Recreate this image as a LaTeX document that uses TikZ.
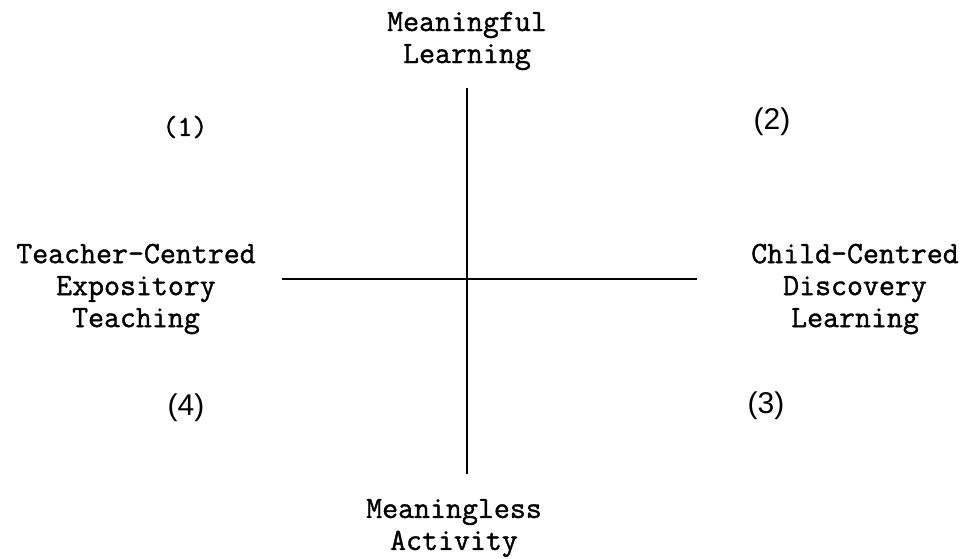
\documentclass[tikz,border=0pt]{standalone}
\usepackage{fontspec}
\newfontfamily\typefont{Latin Modern Mono}[FakeBold=1.2]
\newfontfamily\numfont{Liberation Sans}
\usepackage{tikz}

\begin{document}
\begin{tikzpicture}[x=1pt,y=-1pt,
  pole/.style={font=\typefont\fontsize{31}{32}\selectfont,align=center,inner sep=0pt},
  quadtype/.style={font=\typefont\fontsize{29}{30}\selectfont,inner sep=0pt},
  quadnum/.style={font=\numfont\fontsize{30}{30}\selectfont,inner sep=0pt},
  axis/.style={black,line width=1.9pt}]
  \useasboundingbox (0,0) rectangle (963,559);
  \coordinate (top) at (467,88);
  \coordinate (bottom) at (467,474);
  \coordinate (left) at (282,279);
  \coordinate (right) at (697,279);
  \draw[axis] (top)--(bottom);
  \draw[axis,line width=2.8pt] (left)--(right);
  \node[pole] (meaningful) at (467,41) {Meaningful\\Learning};
  \node[pole] (meaningless) at (454,528) {Meaningless\\Activity};
  \node[pole] (teacher) at (136,289) {Teacher-Centred\\Expository\\Teaching};
  \node[pole] (child) at (855,289) {Child-Centred\\Discovery\\Learning};
  \node[quadtype] (q1) at (185,127) {(1)};
  \node[quadnum] (q2) at (772,122) {(2)};
  \node[quadnum] (q3) at (766,406) {(3)};
  \node[quadnum] (q4) at (186,408) {(4)};
\end{tikzpicture}
\end{document}
